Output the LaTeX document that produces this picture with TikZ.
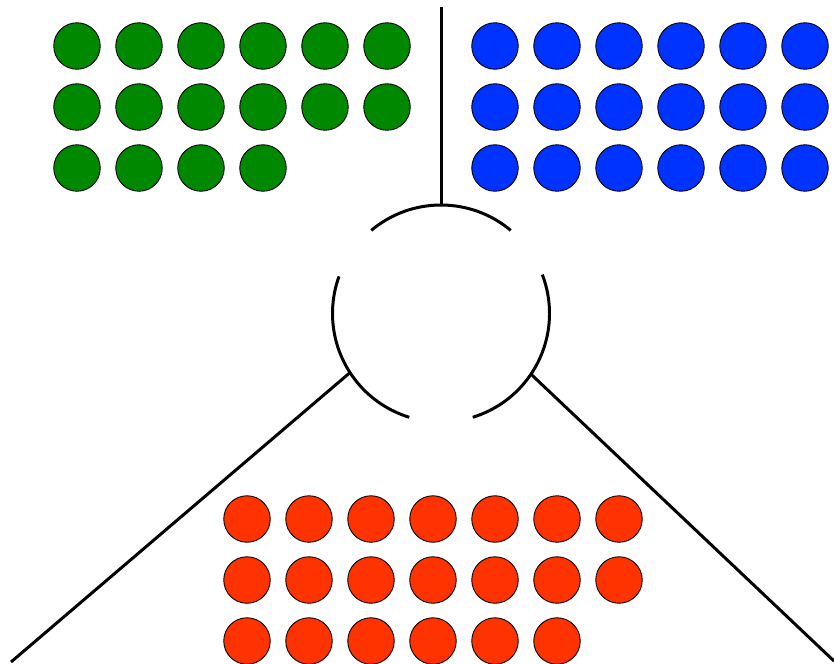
\documentclass[tikz,border=0pt]{standalone}
\usepackage{xcolor, tikz}
\definecolor{leafgreen}{RGB}{0,136,0}
\definecolor{leafblue}{RGB}{0,51,255}
\definecolor{rootred}{RGB}{255,51,0}
\tikzset{
  dot/.style={circle, draw=black, line width=0.5pt, inner sep=0pt, minimum size=0.93cm},
  gdot/.style={dot, fill=leafgreen},
  bdot/.style={dot, fill=leafblue},
  rdot/.style={dot, fill=rootred},
  branch/.style={line width=1.7pt}
}
\begin{document}
\begin{tikzpicture}[x=0.02cm, y=-0.02cm]
\useasboundingbox (0,0) rectangle (834,663);
%Start with the three groups of dots, one row at a time
% the number after the slash is how many dots sit in that row
\foreach \r/\n in {0/6,1/6,2/4}
  \foreach \c in {1,...,\n}
    \node[gdot](g-\r-\c) at ({77+62*(\c-1)},{46+61*\r}){};
\foreach \r/\n in {0/6,1/6,2/6}
  \foreach \c in {1,...,\n}
    \node[bdot](b-\r-\c) at ({495+62*(\c-1)},{46+61*\r}){};
\foreach \r/\n in {0/7,1/7,2/6}
  \foreach \c in {1,...,\n}
    \node[rdot](r-\r-\c) at ({247+62*(\c-1)},{519+61*\r}){};
% the broken circle in the middle, made of three arcs
\coordinate(hub) at (441,313.5);
\draw[branch] ([shift={(-130:108.5)}]hub) arc[start angle=-130, end angle=-50, radius=108.5];
\draw[branch] ([shift={(-160:108.5)}]hub) arc[start angle=-160, end angle=-253, radius=108.5];
\draw[branch] ([shift={(73:108.5)}]hub) arc[start angle=73, end angle=-21, radius=108.5];
% where the three lines meet the circle
\coordinate(jtop) at ([shift={(-90:108.5)}]hub);
\coordinate(jleft) at ([shift={(147:108.5)}]hub);
\coordinate(jright) at ([shift={(34:108.5)}]hub);
\coordinate(ttop) at (441,7);
\coordinate(tleft) at (11,662);
\coordinate(tright) at (834,661);
\draw[branch] (jtop) -- (ttop);
\draw[branch] (jleft) -- (tleft);
\draw[branch] (jright) -- (tright);
\end{tikzpicture}
\end{document}
